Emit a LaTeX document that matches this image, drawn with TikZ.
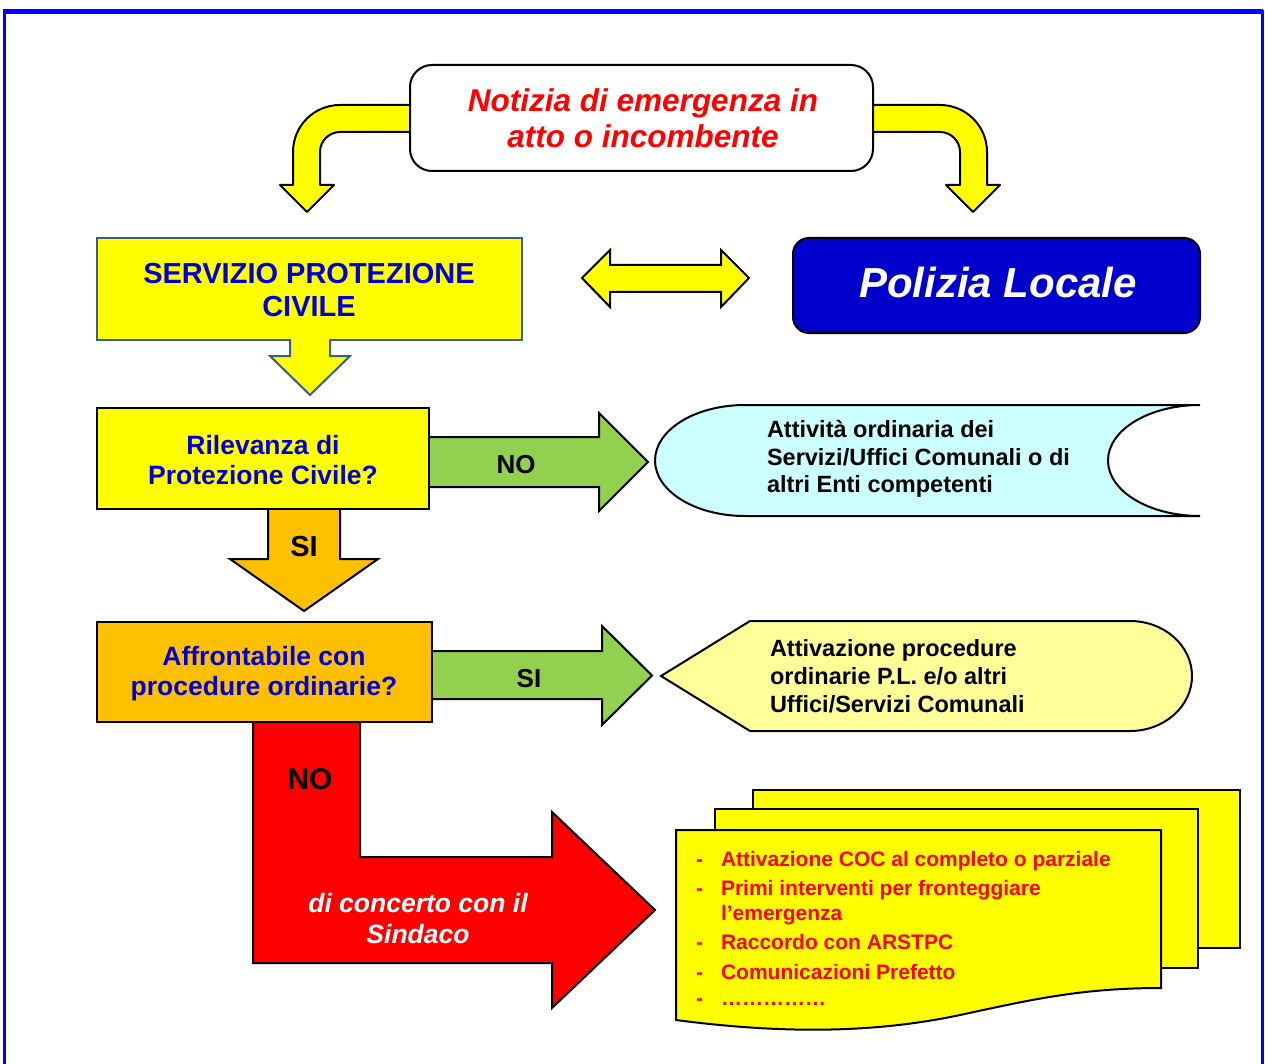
\documentclass[tikz,border=0pt]{standalone}
\usepackage{fontspec}
\setmainfont{Liberation Sans}
\definecolor{framecol}{RGB}{0,0,255}
\definecolor{yel}{RGB}{255,255,0}
\definecolor{lightyel}{RGB}{255,255,153}
\definecolor{cyanfill}{RGB}{204,255,255}
\definecolor{grn}{RGB}{146,208,80}
\definecolor{org}{RGB}{255,192,0}
\definecolor{darkblue}{RGB}{0,0,204}
\definecolor{txtblue}{RGB}{0,0,210}
\definecolor{steel}{RGB}{56,93,138}
\definecolor{redtxt}{RGB}{255,0,0}
\tikzset{
  outl/.style={draw=black, line width=2pt, line join=miter},
  txt/.style={inner sep=0pt, outer sep=0pt},
}
\begin{document}
\begin{tikzpicture}[x=1pt,y=-1pt]
\useasboundingbox (0,0) rectangle (1265,1064);
% frame
\draw[framecol, line width=3pt] (4.5,1070) -- (4.5,12) -- (1262,12) -- (1262,1070);
\draw[framecol, line width=5pt] (3,12) -- (1263,12);

% bent arrows from the top box
\draw[outl, fill=yel, line join=round] (415,105) -- (340,105) .. controls (314,105) and (293,126) .. (293,152)
  -- (293,185) -- (280,185) -- (307,212) -- (334,185) -- (320,185) -- (320,152)
  .. controls (320,141) and (329,132) .. (340,132) -- (415,132) -- cycle;
\draw[outl, fill=yel, line join=round] (865,105) -- (940,105) .. controls (966,105) and (987,126) .. (987,152)
  -- (987,185) -- (1000,185) -- (973,212) -- (946,185) -- (960,185) -- (960,152)
  .. controls (960,141) and (951,132) .. (940,132) -- (865,132) -- cycle;

% top box
\draw[outl, fill=white, rounded corners=22pt] (410,65) rectangle (873,171);
\node[txt, text=redtxt, align=center, font=\fontsize{31.5}{36}\selectfont\bfseries\itshape] (notizia) at (643,118)
  {Notizia di emergenza in\\atto o incombente};

% servizio box
\draw[draw=steel, line width=2pt, fill=yel] (97,238) rectangle (522,340);
\node[txt, text=txtblue, align=center, font=\fontsize{29}{33}\selectfont\bfseries] (servizio) at (309,290)
  {SERVIZIO PROTEZIONE\\CIVILE};
\fill[yel] (290,339) -- (290,356) -- (270,356) -- (310,395) -- (350,356) -- (330,356) -- (330,339) -- cycle;
\draw[draw=steel, line width=2pt, line join=miter] (290,339) -- (290,356) -- (270,356) -- (310,395) -- (350,356) -- (330,356) -- (330,339);

% double arrow
\draw[outl, fill=yel] (582,278) -- (610,250) -- (610,265) -- (721,265) -- (721,250) -- (749,278)
  -- (721,307) -- (721,292) -- (610,292) -- (610,307) -- cycle;

% polizia locale
\draw[outl, fill=darkblue, rounded corners=16pt] (793,238) rectangle (1200,333);
\node[txt, text=white, font=\fontsize{42}{48}\selectfont\bfseries\itshape] (polizia) at (998,282) {Polizia Locale};

% green NO arrow
\draw[outl, fill=grn] (425,437) -- (599,437) -- (599,413) -- (648,462) -- (599,511) -- (599,487) -- (425,487) -- cycle;
% orange SI arrow
\draw[outl, fill=org] (268,505) -- (268,559) -- (230,559) -- (304,611) -- (378,559) -- (340,559) -- (340,505) -- cycle;
% rilevanza box
\draw[outl, fill=yel] (97,408) rectangle (429,509);
\node[txt, text=txtblue, align=center, font=\fontsize{26.5}{30}\selectfont\bfseries] (rilevanza) at (263,460)
  {Rilevanza di\\Protezione Civile?};
\node[txt, font=\fontsize{26}{30}\selectfont\bfseries] (noA) at (516,465) {NO};
\node[txt, font=\fontsize{29}{32}\selectfont\bfseries] (siA) at (304,547) {SI};

% cyan shape
\draw[outl, fill=cyanfill] (1200,405) -- (745,405) .. controls (695.3,405) and (655,429.8) .. (655,460.5)
  .. controls (655,491.2) and (695.3,516) .. (745,516) -- (1200,516)
  .. controls (1149.2,516) and (1108,491.2) .. (1108,460.5)
  .. controls (1108,429.8) and (1149.2,405) .. (1200,405) -- cycle;
\node[txt, anchor=west, align=left, font=\fontsize{23.5}{27.5}\selectfont\bfseries] (attivita) at (767,459)
  {Attività ordinaria dei\\Servizi/Uffici Comunali o di\\altri Enti competenti};

% red L arrow
\draw[outl, fill=redtxt] (253,718) -- (360,718) -- (360,857) -- (552,857) -- (552,812) -- (655,910)
  -- (552,1008) -- (552,963) -- (253,963) -- cycle;
% green SI arrow
\draw[outl, fill=grn] (428,651) -- (602,651) -- (602,626) -- (652,675.5) -- (602,725) -- (602,699) -- (428,699) -- cycle;
% affrontabile box
\draw[outl, fill=org] (97,622) rectangle (432,722);
\node[txt, text=txtblue, align=center, font=\fontsize{26.5}{30}\selectfont\bfseries] (affrontabile) at (264,674)
  {Affrontabile con\\procedure ordinarie?};
\node[txt, font=\fontsize{26}{30}\selectfont\bfseries] (siB) at (529,679) {SI};
\node[txt, font=\fontsize{30}{34}\selectfont\bfseries] (noB) at (310,779) {NO};
\node[txt, text=white, align=center, font=\fontsize{26.5}{31}\selectfont\bfseries\itshape] (concerto) at (418,919)
  {di concerto con il\\Sindaco};

% attivazione shape
\draw[outl, fill=lightyel] (661,676) -- (750,621) -- (1130,621)
  .. controls (1164.2,621) and (1192,645.6) .. (1192,676)
  .. controls (1192,706.4) and (1164.2,731) .. (1130,731) -- (750,731) -- cycle;
\node[txt, anchor=west, align=left, font=\fontsize{23.5}{28}\selectfont\bfseries] (attivazione) at (770,676)
  {Attivazione procedure\\ordinarie P.L. e/o altri\\Uffici/Servizi Comunali};

% document stack
\draw[outl, fill=yel] (753,790) rectangle (1240,948);
\draw[outl, fill=yel] (715,809) rectangle (1198,968);
\draw[outl, fill=yel] (676,830) -- (1161,830) -- (1161,988)
  .. controls (1080,988) and (1030,1000) .. (960,1015)
  .. controls (880,1032) and (790,1035) .. (676,1020) -- cycle;

\begin{scope}[every node/.style={txt, anchor=base west, text=redtxt, font=\fontsize{21}{24}\selectfont\bfseries}]
\node (d1) at (696,866) {-};
\node (i1) at (721,866) {Attivazione COC al completo o parziale};
\node (d2) at (696,895) {-};
\node (i2) at (721,895) {Primi interventi per fronteggiare};
\node (i2b) at (721,920) {l’emergenza};
\node (d3) at (696,949) {-};
\node (i3) at (721,949) {Raccordo con ARSTPC};
\node (d4) at (696,979) {-};
\node (i4) at (721,979) {Comunicazioni Prefetto};
\node (d5) at (696,1005) {-};
\node (i5) at (721,1005) {……………};
\end{scope}
\end{tikzpicture}
\end{document}
